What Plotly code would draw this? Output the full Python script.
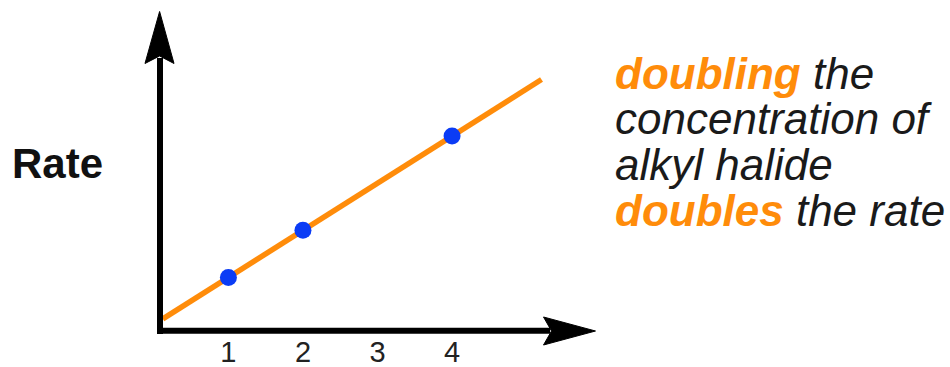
import plotly.graph_objects as go

# --- data -------------------------------------------------------------
concentration = [1, 2, 4]          # [alkyl halide], arbitrary units
rate = [1, 2, 4]                   # measured rate, same units
fit_conc = [0.12, 5.2]             # extent of the proportional fit line
fit_rate = [0.12, 5.2]
tick_vals = [1, 2, 3, 4]
tick_text = ["1", "2", "3", "4"]

caption_emph = ["doubling", "", "", "doubles"]
caption_rest = [" the", "concentration of", "alkyl halide", " the rate"]

# --- style ------------------------------------------------------------
ORANGE = "#FF8C0A"
BLUE = "#0B3CF5"
FONT = "Liberation Sans, Arial, Helvetica, sans-serif"
W, H = 950, 367
MB = 36                  # bottom margin; plot area = 0..331 px from the top
PH = H - MB


def px(x, y):
    """pixel position -> paper coordinates"""
    return x / W, (PH - y) / PH


def path(points):
    parts = []
    for i, (x, y) in enumerate(points):
        u, v = px(x, y)
        parts.append(("M" if i == 0 else "L") + f"{u:.5f},{v:.5f}")
    return " ".join(parts) + " Z"


fig = go.Figure()

fig.add_trace(go.Scatter(
    x=fit_conc, y=fit_rate, mode="lines",
    line=dict(color=ORANGE, width=5.5), hoverinfo="skip", showlegend=False,
))
fig.add_trace(go.Scatter(
    x=concentration, y=rate, mode="markers",
    marker=dict(color=BLUE, size=17, line=dict(width=0)), showlegend=False,
))

# axis arrows
shapes = []
x0, y0 = px(160, 334)
x1, y1 = px(160, 58)
shapes.append(dict(type="line", xref="paper", yref="paper",
                   x0=x0, y0=y0, x1=x1, y1=y1,
                   line=dict(color="black", width=6)))
x0, y0 = px(157, 330.7)
x1, y1 = px(550, 330.7)
shapes.append(dict(type="line", xref="paper", yref="paper",
                   x0=x0, y0=y0, x1=x1, y1=y1,
                   line=dict(color="black", width=6)))
shapes.append(dict(type="path", xref="paper", yref="paper",
                   path=path([(159.6, 11.5), (174, 63.5), (159.6, 56), (145, 63.5)]),
                   fillcolor="black", line=dict(color="black", width=1)))
shapes.append(dict(type="path", xref="paper", yref="paper",
                   path=path([(595.5, 331), (543.5, 345), (551.5, 331), (543.5, 317)]),
                   fillcolor="black", line=dict(color="black", width=1)))

annotations = []
u, v = px(57.5, 163)
annotations.append(dict(
    xref="paper", yref="paper", x=u, y=v, xanchor="center", yanchor="middle",
    text="<b>Rate</b>", showarrow=False,
    font=dict(family=FONT, size=42, color="#111"),
))

line_centres = [73, 118, 164, 210]
for emph, rest, yc in zip(caption_emph, caption_rest, line_centres):
    txt = ""
    if emph:
        txt += f"<b><i><span style='color:{ORANGE}'>{emph}</span></i></b>"
    txt += f"<i>{rest}</i>"
    u, v = px(613, yc)
    annotations.append(dict(
        xref="paper", yref="paper", x=u, y=v, xanchor="left", yanchor="middle",
        text=txt, showarrow=False,
        font=dict(family=FONT, size=44, color="#1a1a1a"),
    ))

fig.update_layout(
    width=W, height=H,
    margin=dict(l=0, r=0, t=0, b=MB, pad=0, autoexpand=False),
    paper_bgcolor="white", plot_bgcolor="white",
    shapes=shapes, annotations=annotations,
    xaxis=dict(
        range=[-2.0637, 10.6794], showgrid=False, zeroline=False, showline=False,
        automargin=False,
        tickmode="array", tickvals=tick_vals, ticktext=tick_text, ticks="",
        ticklabelstandoff=1,
        tickfont=dict(family=FONT, size=29, color="#222"), fixedrange=True,
    ),
    yaxis=dict(range=[-0.1358, 6.886], visible=False, fixedrange=True,
               automargin=False),
)

fig.write_html("out.html", config={"displayModeBar": False})
